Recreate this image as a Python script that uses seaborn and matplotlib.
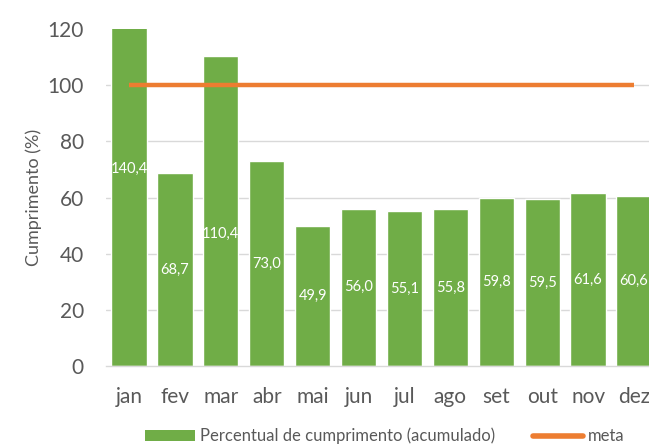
import matplotlib
matplotlib.use("Agg")
import matplotlib.pyplot as plt
from matplotlib.lines import Line2D
from matplotlib.patches import Patch
import seaborn as sns
import pandas as pd

meses = ['jan', 'fev', 'mar', 'abr', 'mai', 'jun', 'jul', 'ago', 'set', 'out', 'nov', 'dez']
percentual = [140.4, 68.7, 110.4, 73.0, 49.9, 56.0, 55.1, 55.8, 59.8, 59.5, 61.6, 60.6]
meta = [100] * 12

sns.set_style("white")
plt.rcParams['font.family'] = ['Lato', 'DejaVu Sans']

green = '#70AD47'
orange = '#ED7D31'
txt = '#595959'

df = pd.DataFrame({'mes': meses, 'percentual': percentual, 'meta': meta})

fig = plt.figure(figsize=(6.49, 4.48), dpi=100)
ax = fig.add_axes([106 / 649, 82 / 448, 551 / 649, 337 / 448])

sns.barplot(data=df, x='mes', y='percentual', color=green, width=0.77,
            saturation=1, ax=ax, zorder=2)
ax.plot(range(len(meses)), df['meta'], color=orange, lw=3.2, zorder=3,
        solid_capstyle='butt')

# labels in the middle of each bar (value / 2); mar label sits a bit lower
for i, v in enumerate(percentual):
    y = v / 2 if meses[i] != 'mar' else v / 2 - 8
    ax.text(i, y, f'{v:.1f}'.replace('.', ','), ha='center', va='center',
            color='white', fontsize=10.5, zorder=4)

ax.set_ylim(0, 120)
ax.set_xlim(-0.5, 11.5)
ax.set_yticks([0, 20, 40, 60, 80, 100, 120])
for y in [20, 40, 60, 80, 100]:
    ax.axhline(y, color='#D9D9D9', lw=1, zorder=1)

for s in ['top', 'right', 'left']:
    ax.spines[s].set_visible(False)
ax.spines['bottom'].set_color('#D9D9D9')
ax.spines['bottom'].set_linewidth(1)

ax.set_xticks([x - 0.5 for x in range(13)], minor=True)
ax.tick_params(axis='x', which='minor', length=6, color='#D9D9D9', width=1)
ax.tick_params(axis='x', which='major', length=0, pad=15, labelsize=15, labelcolor=txt)
ax.tick_params(axis='y', length=0, pad=16, labelsize=15, labelcolor=txt)

ax.set_xlabel('')
ax.set_ylabel('Cumprimento (%)', fontsize=13, color=txt, labelpad=4)

handles = [Patch(facecolor=green, edgecolor='none'),
           Line2D([0], [0], color=orange, lw=4)]
fig.legend(handles, ['Percentual de cumprimento (acumulado)', 'meta'],
           loc='center', bbox_to_anchor=(0.593, 12 / 448),
           ncol=2, frameon=False, fontsize=12, labelcolor=txt,
           handlelength=3.0, handleheight=0.6, handletextpad=0.3, columnspacing=2.3)

fig.savefig('out.png', dpi=100)
